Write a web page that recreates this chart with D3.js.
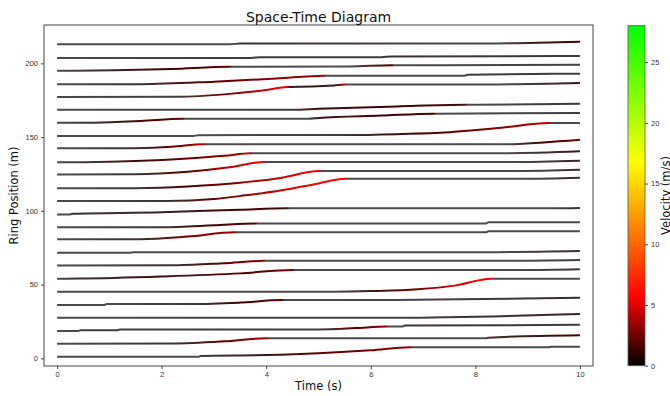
<!DOCTYPE html>
<html>
<head>
<meta charset="utf-8">
<script src="https://cdn.jsdelivr.net/npm/d3@7"></script>
<style>
  body { margin: 0; background: #fff; }
  svg { font-family: "DejaVu Sans", sans-serif; }
  .axis text { font-size: 7.5px; fill: #333; }
  .axis line { stroke: #444; }
  .axis path { display: none; }
  .label { font-size: 11.5px; fill: #111; }
</style>
</head>
<body>
<svg id="chart"></svg>
<script>
// one track per vehicle: [time (s), ring position (m), velocity (m/s)]
var tracks = [
  [[0,212.9,0],[3.3,212.9,0],[3.5,213.5,0.5],[8.4,213.5,0],[9.2,213.9,1],[10,214.7,1.5]],
  [[0,203.6,0],[3.7,203.6,0.3],[3.9,204.2,0.3],[6.2,204.2,0.3],[6.4,204.6,0.5],[10,205.0,0.3]],
  [[0,195.0,0],[1.1,195.3,0.8],[2.2,196.2,1.5],[3.3,197.7,2.2],[3.35,197.7,0],[5.6,197.9,0],[6.4,198.7,1.5],[6.45,198.7,0],[10,199.1,0.2]],
  [[0,185.8,0],[1.6,185.9,0.5],[3.0,187.6,2],[4.2,189.7,3],[5.1,191.6,3.5],[5.15,191.6,0],[7.8,191.6,0],[7.85,192.3,0.3],[10,193.0,0.3]],
  [[0,177.2,0],[2.3,177.3,0.3],[3.3,179.3,2.5],[4.0,181.9,4.5],[4.4,184.0,5.5],[4.45,184.0,1],[5.3,185.0,1],[5.5,185.6,4],[5.55,185.6,0],[8.4,185.7,0],[10,186.6,1]],
  [[0,168.5,0],[4.5,168.6,0.3],[5.0,169.2,1.3],[6.5,170.8,1.5],[7.8,171.9,1.2],[7.85,171.9,0],[10,172.6,0.4]],
  [[0,159.7,0],[0.7,159.8,0.5],[1.6,160.9,1.6],[2.4,162.4,2.2],[2.45,162.4,0],[4.8,162.4,0],[5.0,163.0,1],[6.2,164.6,1.5],[7.2,165.9,1.5],[7.25,165.9,0],[10,166.4,0.3]],
  [[0,150.7,0],[2.6,150.7,0],[2.7,151.3,0],[5.5,151.4,0.3],[6.5,152.0,1.2],[7.5,153.3,2],[8.5,156.3,3],[9.4,159.5,4],[9.45,159.5,0],[10,159.5,0]],
  [[0,142.4,0],[1.5,142.5,0.5],[2.2,143.4,2],[2.8,145.2,4],[2.85,145.2,0],[8.6,145.2,0],[9.3,146.4,1.5],[10,148.2,2.5]],
  [[0,132.9,0],[0.5,133.0,0.3],[1.5,133.8,1.2],[2.5,135.5,2.2],[3.2,137.3,3],[3.7,139.1,4],[3.75,139.1,0],[8.6,139.1,0],[10,140.4,1]],
  [[0,124.7,0],[1.5,124.8,0.4],[2.5,126.5,2],[3.3,129.5,4],[3.95,133.1,5.5],[4.0,133.1,0],[8.7,133.1,0],[10,134.0,0.7]],
  [[0,115.3,0],[1.5,115.4,0.4],[2.5,116.5,1.5],[3.5,119.0,3],[4.3,122.5,4.5],[5.0,127.0,5.5],[5.05,127.0,0],[8.8,127.0,0],[10,127.8,0.6]],
  [[0,106.6,0],[2.1,106.7,0.4],[3.0,108.0,2],[3.6,110.5,3],[4.3,114.0,4.5],[5.0,118.6,5.5],[5.5,121.7,5.5],[5.55,121.7,0],[8.9,121.7,0],[10,122.4,0.6]],
  [[0,97.6,0],[0.25,97.6,0],[0.3,98.1,0.5],[2.0,99.0,0.8],[3.5,100.8,1.5],[4.4,101.7,1.2],[4.45,101.7,0],[9.4,101.7,0],[10,102.0,0.5]],
  [[0,88.8,0],[2.0,88.9,0.4],[3.0,90.2,1.5],[3.8,91.5,1.7],[3.85,91.5,0],[8.2,91.5,0],[8.25,92.2,0],[10,92.2,0]],
  [[0,80.7,0],[1.6,80.8,0.5],[2.5,82.6,2.5],[3.4,85.4,3.5],[3.45,85.4,0],[8.2,85.4,0],[8.25,86.1,0],[10,86.1,0]],
  [[0,71.6,0],[1.4,71.6,0],[1.45,72.0,0],[8.4,72.0,0],[10,72.7,0.6]],
  [[0,63.0,0],[2.3,63.1,0.5],[3.2,64.5,2],[3.95,66.1,3],[4.0,66.1,0],[8.6,66.1,0],[10,66.6,0.3]],
  [[0,54.0,0],[0.4,54.1,0.5],[2.0,55.5,1.2],[3.5,57.6,1.8],[4.5,59.9,2.5],[4.55,59.9,0],[8.9,59.9,0],[10,60.4,0.5]],
  [[0,45.2,0],[5.3,45.2,0],[6.0,45.6,1],[6.9,46.8,2.5],[7.6,49.3,4.5],[8.3,54.0,5.5],[8.35,54.0,0],[10,54.0,0]],
  [[0,36.1,0],[0.9,36.1,0],[0.95,36.8,0],[2.6,36.8,0.3],[3.5,37.8,1.5],[4.3,39.5,2],[4.35,39.5,0],[5.5,39.5,0],[10,41.1,0.6]],
  [[0,27.5,0],[6.5,27.5,0.2],[10,30.0,0.8]],
  [[0,18.5,0],[0.4,18.6,0],[0.45,19.0,0.3],[1.15,19.0,0.3],[1.2,19.6,0.3],[5.0,19.6,0.3],[5.7,20.5,2],[6.3,21.6,3],[6.35,21.6,0],[6.6,21.6,0],[6.65,22.2,0.4],[10,22.7,0.3]],
  [[0,9.9,0],[2.2,10.0,0.4],[3.2,11.5,2],[4.0,13.6,3.5],[4.05,13.6,0],[8.2,13.6,0],[8.25,14.0,0.5],[10,15.6,1.5]],
  [[0,1.1,0],[2.7,1.1,0],[2.75,1.6,0.3],[4.0,2.2,1],[5.0,3.4,2],[6.0,5.4,2.5],[6.75,7.5,3],[6.8,7.5,0],[9.4,7.5,0],[9.45,7.9,0],[10,7.9,0]]
];

var xTicks = [0, 2, 4, 6, 8, 10];
var yTicks = [0, 50, 100, 150, 200];
var cbarTicks = [0, 5, 10, 15, 20, 25];
var vMax = 28;

// black -> red -> yellow -> green colormap
var cmapStops = [0, 5.6, 16.8, 28];
var cmapColors = ["#000000", "#ff0000", "#ffff00", "#00ff00"];

var w = 670;
var h = 396;
var plot = {left: 44, right: 593, top: 25, bottom: 366};
var cbar = {left: 628, width: 17};

var svg = d3.select("#chart")
  .attr("width", w)
  .attr("height", h);

var defs = svg.append("defs");

var xScale = d3.scaleLinear()
  .domain([-0.25, 10.25])
  .range([plot.left, plot.right]);

var yScale = d3.scaleLinear()
  .domain([-5.2, 226])
  .range([plot.bottom, plot.top]);

var color = d3.scaleLinear()
  .domain(cmapStops)
  .range(cmapColors);

//stopped vehicles render as dark grey dots in the original, so fade black to grey on the tracks
function trackColor(v) {
  return d3.interpolateRgb("#4b4b4b", color(v))(Math.min(1, v / 1.5));
}

var line = d3.line()
  .x(function(d) { return xScale(d[0]); })
  .y(function(d) { return yScale(d[1]); })
  .curve(d3.curveMonotoneX);

//one horizontal gradient per vehicle, stops at each sampled time
tracks.forEach(function(track, i) {
  var grad = defs.append("linearGradient")
    .attr("id", "track" + i)
    .attr("gradientUnits", "userSpaceOnUse")
    .attr("x1", xScale(0))
    .attr("x2", xScale(10))
    .attr("y1", 0)
    .attr("y2", 0);
  grad.selectAll("stop")
    .data(track)
    .enter()
    .append("stop")
    .attr("offset", function(d) { return d[0] / 10; })
    .attr("stop-color", function(d) { return trackColor(d[2]); });

  svg.append("path")
    .datum(track)
    .attr("d", line)
    .attr("fill", "none")
    .attr("stroke", "url(#track" + i + ")")
    .attr("stroke-width", 2);
});

//frame
svg.append("rect")
  .attr("x", plot.left)
  .attr("y", plot.top)
  .attr("width", plot.right - plot.left)
  .attr("height", plot.bottom - plot.top)
  .attr("fill", "none")
  .attr("stroke", "#444")
  .attr("stroke-width", 1);

svg.append("g")
  .attr("class", "axis")
  .attr("transform", "translate(0," + plot.bottom + ")")
  .call(d3.axisBottom(xScale).tickValues(xTicks).tickSize(3).tickPadding(3));

svg.append("g")
  .attr("class", "axis")
  .attr("transform", "translate(" + plot.left + ",0)")
  .call(d3.axisLeft(yScale).tickValues(yTicks).tickSize(3).tickPadding(3));

//colorbar
var cScale = d3.scaleLinear()
  .domain([0, vMax])
  .range([365.7, 25.7]);

var cgrad = defs.append("linearGradient")
  .attr("id", "cbar")
  .attr("x1", 0).attr("x2", 0)
  .attr("y1", 1).attr("y2", 0);
cgrad.selectAll("stop")
  .data(cmapStops)
  .enter()
  .append("stop")
  .attr("offset", function(d) { return d / vMax; })
  .attr("stop-color", function(d) { return color(d); });

svg.append("rect")
  .attr("x", cbar.left)
  .attr("y", cScale(vMax))
  .attr("width", cbar.width)
  .attr("height", cScale(0) - cScale(vMax))
  .attr("fill", "url(#cbar)")
  .attr("stroke", "#555")
  .attr("stroke-width", 0.8);

svg.append("g")
  .attr("class", "axis")
  .attr("transform", "translate(" + (cbar.left + cbar.width) + ",0)")
  .call(d3.axisRight(cScale).tickValues(cbarTicks).tickSize(3).tickPadding(3));

//labels
svg.append("text")
  .text("Space-Time Diagram")
  .attr("x", (plot.left + plot.right) / 2)
  .attr("y", 22)
  .attr("text-anchor", "middle")
  .attr("font-size", "14px")
  .attr("fill", "#111");

svg.append("text")
  .text("Time (s)")
  .attr("class", "label")
  .attr("text-anchor", "middle")
  .attr("x", (plot.left + plot.right) / 2)
  .attr("y", 390);

svg.append("text")
  .text("Ring Position (m)")
  .attr("class", "label")
  .attr("text-anchor", "middle")
  .attr("transform", "translate(18," + ((plot.top + plot.bottom) / 2) + ") rotate(-90)");

svg.append("text")
  .text("Velocity (m/s)")
  .attr("class", "label")
  .attr("text-anchor", "middle")
  .attr("transform", "translate(670," + ((plot.top + plot.bottom) / 2) + ") rotate(-90)");
</script>
</body>
</html>
